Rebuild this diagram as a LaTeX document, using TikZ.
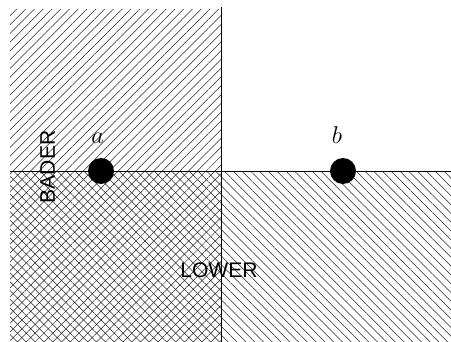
\documentclass[tikz,border=0pt]{standalone}
\usepackage{fontspec}
\newfontfamily\regionfont{Liberation Sans}
\usetikzlibrary{patterns.meta}

\begin{document}
\begin{tikzpicture}[x=0.03cm, y=-0.03cm,
  hatchne/.style={pattern={Lines[angle=45,distance=5.3pt,line width=0.45pt]}, pattern color=black!85},
  hatchnw/.style={pattern={Lines[angle=-45,distance=5.3pt,line width=0.45pt]}, pattern color=black!85},
  border/.style={line width=0.7pt},
  pt/.style={circle, fill, inner sep=0pt, minimum size=0.78cm},
  var/.style={font=\fontsize{21}{24}\selectfont},
  region/.style={font=\regionfont\fontsize{18}{20}\selectfont}
]
  \useasboundingbox (0,0) rectangle (451,342);
  % hatched regions (the lower left one gets both)
  \fill[hatchne] (10,10) rectangle (221,342);
  \fill[hatchnw] (10,171) rectangle (451,342);
  \draw[border] (10,171) -- (451,171);
  \draw[border] (221,7) -- (221,342);
  % points
  \node[pt] (a) at (101,171) {};
  \node[pt] (b) at (343,171) {};
  \node[var, anchor=base] (alab) at (97.5,143) {$a$};
  \node[var, anchor=base] (blab) at (337,143) {$b$};
  \node[region, rotate=90] (bader) at (47.5,167) {BADER};
  \node[region] (lower) at (219,270) {LOWER};
\end{tikzpicture}
\end{document}
